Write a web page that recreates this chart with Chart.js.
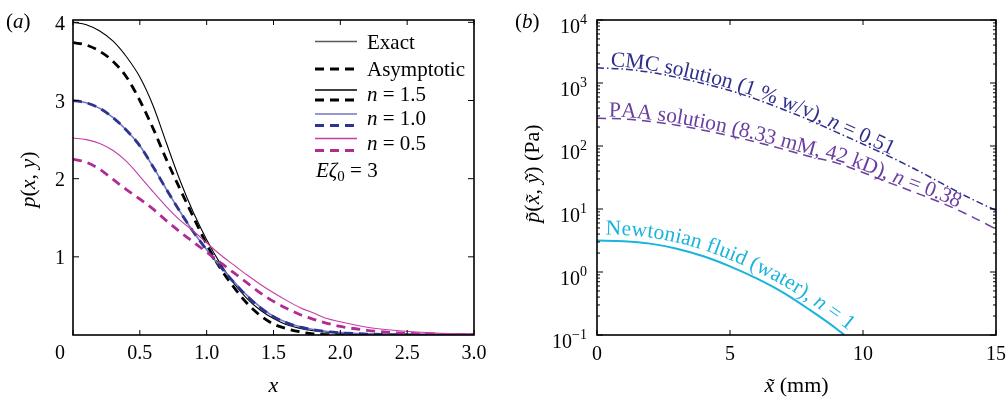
<!DOCTYPE html>
<html>
<head>
<meta charset="utf-8">
<script src="https://cdn.jsdelivr.net/npm/chart.js@4.4.1/dist/chart.umd.min.js"></script>
<style>
  html, body { margin: 0; padding: 0; background: #fff; }
  #wrap { position: relative; width: 1008px; height: 397px; }
  #chartA { position: absolute; left: 0; top: 0; }
  #chartB { position: absolute; left: 500px; top: 0; }
</style>
</head>
<body>
<div id="wrap">
  <canvas id="chartA" width="500" height="397"></canvas>
  <canvas id="chartB" width="508" height="397"></canvas>
</div>
<script>
// panel (a): p(x, y) against x
const xA = [0,0.1,0.2,0.3,0.4,0.5,0.6,0.7,0.8,0.9,1.0,1.1,1.2,1.3,1.4,1.5,1.6,1.7,1.8,1.9,2.0,2.2,2.4,2.6,2.8,3.0];
const exact15 = [4.0,3.97,3.89,3.76,3.56,3.3,2.93,2.45,1.98,1.57,1.22,0.92,0.67,0.47,0.32,0.21,0.13,0.085,0.055,0.035,0.022,0.01,0.004,0.002,0.001,0];
const asym15  = [3.74,3.71,3.63,3.5,3.3,3.0,2.64,2.24,1.87,1.51,1.16,0.86,0.62,0.41,0.25,0.14,0.08,0.04,0.015,0.005,0.001,0,0,0,0,0];
const exact10 = [3.0,2.97,2.9,2.78,2.62,2.42,2.15,1.86,1.58,1.32,1.09,0.88,0.69,0.51,0.36,0.24,0.16,0.105,0.07,0.045,0.03,0.014,0.006,0.003,0.001,0];
const asym10  = [3.0,2.97,2.9,2.78,2.62,2.42,2.15,1.86,1.58,1.32,1.09,0.88,0.68,0.5,0.35,0.235,0.155,0.1,0.066,0.042,0.028,0.012,0.005,0.002,0.001,0];
const exact05 = [2.52,2.5,2.45,2.36,2.22,2.03,1.83,1.64,1.47,1.33,1.18,1.03,0.9,0.77,0.65,0.54,0.44,0.35,0.28,0.21,0.17,0.1,0.06,0.035,0.02,0.012];
const asym05  = [2.25,2.21,2.12,1.99,1.86,1.74,1.61,1.46,1.32,1.19,1.06,0.93,0.8,0.67,0.54,0.43,0.34,0.26,0.2,0.15,0.11,0.06,0.03,0.015,0.007,0.003];
const xTicksA = [0.5,1,1.5,2,2.5,3];
const xTickLabelsA = ['0.5','1.0','1.5','2.0','2.5','3.0'];
const yTicksA = [1,2,3,4];

// panel (b): pressure (Pa) against x (mm), log axis
const xB = [0,1,2,3,4,5,6,7,8,9,10,11,12,13,14,15];
const cmcPa = [1740,1660,1480,1230,977,759,550,380,257,166,107,68,42,25,15,9.5];
const paaPa = [275,269,245,214,178,145,115,89,68,54,38,26,18,12.3,7.9,4.8];
const xNewt = [0,1,2,3,4,5,6,7,8,9,9.3];
const newtPa = [3.16,3.09,2.82,2.34,1.78,1.23,0.79,0.47,0.25,0.126,0.1];
const xTicksB = [0,5,10,15];
const decadesB = [-1,0,1,2,3,4];

const SERIF = '"Liberation Serif", "DejaVu Serif", serif';
const C_BLUE_L = '#7276c4', C_BLUE_D = '#2d3490';
const C_MAG_L = '#c43ea6', C_MAG_D = '#b22b94';
const C_CMC = '#2f2f8c', C_PAA = '#6b3fa0', C_NEWT = '#19b4dc';

function pts(xs, ys) { return xs.map((x, i) => ({ x: x, y: ys[i] })); }

// parts: [text, italic, sizeScale, dy]
function rich(ctx, parts, x, y, align, size) {
  const fontOf = p => (p[1] ? 'italic ' : '') + Math.round(size * (p[2] || 1)) + 'px ' + SERIF;
  let total = 0;
  parts.forEach(p => { ctx.font = fontOf(p); total += ctx.measureText(p[0]).width; });
  let cx = align === 'center' ? x - total / 2 : align === 'right' ? x - total : x;
  parts.forEach(p => {
    ctx.font = fontOf(p);
    ctx.fillText(p[0], cx, y + (p[3] || 0));
    cx += ctx.measureText(p[0]).width;
  });
}

function frame(chart, xt, yt, yMinor) {
  const { ctx, chartArea: a, scales } = chart;
  ctx.save();
  ctx.strokeStyle = '#000';
  ctx.lineWidth = 1;
  ctx.beginPath();
  xt.forEach(v => {
    const px = scales.x.getPixelForValue(v);
    ctx.moveTo(px, a.bottom); ctx.lineTo(px, a.bottom - 5);
    ctx.moveTo(px, a.top); ctx.lineTo(px, a.top + 5);
  });
  yt.forEach(v => {
    const py = scales.y.getPixelForValue(v);
    ctx.moveTo(a.left, py); ctx.lineTo(a.left + 6, py);
    ctx.moveTo(a.right, py); ctx.lineTo(a.right - 6, py);
  });
  (yMinor || []).forEach(v => {
    const py = scales.y.getPixelForValue(v);
    ctx.moveTo(a.left, py); ctx.lineTo(a.left + 3, py);
    ctx.moveTo(a.right, py); ctx.lineTo(a.right - 3, py);
  });
  ctx.stroke();
  ctx.lineWidth = 1.6;
  ctx.strokeRect(a.left, a.top, a.right - a.left, a.bottom - a.top);
  ctx.restore();
}

// sample the drawn bezier path of a dataset
function samplePath(meta) {
  const p = meta.data, out = [];
  for (let i = 0; i < p.length - 1; i++) {
    const a = p[i], b = p[i + 1];
    const c1x = a.cp2x ?? a.x, c1y = a.cp2y ?? a.y, c2x = b.cp1x ?? b.x, c2y = b.cp1y ?? b.y;
    for (let k = 0; k < 16; k++) {
      const t = k / 16, u = 1 - t;
      out.push({
        x: u*u*u*a.x + 3*u*u*t*c1x + 3*u*t*t*c2x + t*t*t*b.x,
        y: u*u*u*a.y + 3*u*u*t*c1y + 3*u*t*t*c2y + t*t*t*b.y
      });
    }
  }
  out.push({ x: p[p.length - 1].x, y: p[p.length - 1].y });
  out[0].s = 0;
  for (let i = 1; i < out.length; i++) out[i].s = out[i - 1].s + Math.hypot(out[i].x - out[i - 1].x, out[i].y - out[i - 1].y);
  return out;
}

function pointAt(path, s) {
  if (s <= 0) s = 0;
  const n = path.length;
  if (s >= path[n - 1].s) {
    const a = path[n - 6], b = path[n - 1], d = b.s - a.s;
    const f = (s - b.s) / d;
    return { x: b.x + (b.x - a.x) * f, y: b.y + (b.y - a.y) * f };
  }
  let i = 1;
  while (path[i].s < s) i++;
  const a = path[i - 1], b = path[i], f = (s - a.s) / (b.s - a.s || 1);
  return { x: a.x + (b.x - a.x) * f, y: a.y + (b.y - a.y) * f };
}

function textOnPath(ctx, path, parts, startPx, offset, color, size) {
  let s = (path.find(p => p.x >= startPx) || path[0]).s;
  ctx.save();
  ctx.fillStyle = color;
  ctx.textBaseline = 'alphabetic';
  parts.forEach(part => {
    ctx.font = (part[1] ? 'italic ' : '') + size + 'px ' + SERIF;
    for (const ch of part[0]) {
      const w = ctx.measureText(ch).width;
      const m = s + w / 2;
      const p = pointAt(path, m), p1 = pointAt(path, m - 8), p2 = pointAt(path, m + 8);
      const ang = Math.atan2(p2.y - p1.y, p2.x - p1.x);
      ctx.save();
      ctx.translate(p.x + Math.sin(ang) * offset, p.y - Math.cos(ang) * offset);
      ctx.rotate(ang);
      ctx.fillText(ch, -w / 2, 0);
      ctx.restore();
      s += w;
    }
  });
  ctx.restore();
}

const thin = 1.1, thick = 2.8, dash = [9, 6];

// ---------- panel (a)
const decorA = {
  id: 'decorA',
  afterDatasetsDraw(chart) {
    const { ctx, chartArea: a, scales } = chart;
    frame(chart, [0].concat(xTicksA), yTicksA);
    ctx.save();
    ctx.fillStyle = '#000';
    ctx.font = '20px ' + SERIF;
    ctx.textBaseline = 'alphabetic';
    ctx.textAlign = 'center';
    xTicksA.forEach((v, i) => ctx.fillText(xTickLabelsA[i], scales.x.getPixelForValue(v), a.bottom + 24));
    ctx.textAlign = 'right';
    ctx.fillText('0', a.left - 8, a.bottom + 24);
    ctx.textBaseline = 'middle';
    yTicksA.forEach(v => ctx.fillText(String(v), a.left - 8, scales.y.getPixelForValue(v) + 2));
    ctx.textAlign = 'left';
    ctx.textBaseline = 'alphabetic';
    rich(ctx, [['(', false], ['a', true], [')', false]], 6, 28, 'left', 21);
    rich(ctx, [['x', true]], (a.left + a.right) / 2, 392, 'center', 22);
    ctx.save();
    ctx.translate(35, (a.top + a.bottom) / 2 + 2);
    ctx.rotate(-Math.PI / 2);
    rich(ctx, [['p', true], ['(', false], ['x', true], [', ', false], ['y', true], [')', false]], 0, 0, 'center', 22);
    ctx.restore();

    // legend
    const lx0 = 315, lx1 = 357, tx = 367;
    const seg = (y, color, w, d) => {
      ctx.save(); ctx.strokeStyle = color; ctx.lineWidth = w; ctx.setLineDash(d || []);
      ctx.beginPath(); ctx.moveTo(lx0, y); ctx.lineTo(lx1, y); ctx.stroke(); ctx.restore();
    };
    seg(41.5, '#5a5a5a', 1.4);
    seg(69, '#000', thick, dash);
    seg(90, '#000', 1.4); seg(100, '#000', thick, dash);
    seg(114, C_BLUE_L, 1.4); seg(125.5, C_BLUE_D, thick, dash);
    seg(138.5, C_MAG_L, 1.4); seg(150.5, C_MAG_D, thick, dash);
    ctx.fillStyle = '#000';
    rich(ctx, [['Exact', false]], tx, 48.5, 'left', 21);
    rich(ctx, [['Asymptotic', false]], tx, 75.5, 'left', 21);
    rich(ctx, [['n', true], [' = 1.5', false]], tx, 100.5, 'left', 21);
    rich(ctx, [['n', true], [' = 1.0', false]], tx, 125, 'left', 21);
    rich(ctx, [['n', true], [' = 0.5', false]], tx, 150, 'left', 21);
    rich(ctx, [['Eζ', true], ['0', false, 0.7, 4], [' = 3', false]], 316, 177, 'left', 21);
    ctx.restore();
  }
};

new Chart(document.getElementById('chartA'), {
  type: 'line',
  data: {
    datasets: [
      { data: pts(xA, asym15), borderColor: '#000', borderWidth: thick, borderDash: dash, order: 6 },
      { data: pts(xA, exact15), borderColor: '#000', borderWidth: thin, order: 5 },
      { data: pts(xA, exact10), borderColor: C_BLUE_L, borderWidth: 1.6, order: 4 },
      { data: pts(xA, asym10), borderColor: C_BLUE_D, borderWidth: thick, borderDash: dash, order: 3 },
      { data: pts(xA, asym05), borderColor: C_MAG_D, borderWidth: thick, borderDash: dash, order: 2 },
      { data: pts(xA, exact05), borderColor: C_MAG_L, borderWidth: thin, order: 1 }
    ]
  },
  options: {
    responsive: false,
    animation: false,
    events: [],
    layout: { padding: { left: 73, right: 26, top: 20, bottom: 62 } },
    elements: { point: { radius: 0 }, line: { cubicInterpolationMode: 'monotone', fill: false } },
    scales: {
      x: { type: 'linear', min: 0, max: 3, display: false },
      y: { type: 'linear', min: 0, max: 4.03, display: false }
    },
    plugins: { legend: { display: false }, tooltip: { enabled: false } }
  },
  plugins: [decorA]
});

// ---------- panel (b)
const minorB = [];
decadesB.slice(0, -1).forEach(d => { for (let k = 2; k <= 9; k++) minorB.push(k * Math.pow(10, d)); });

const decorB = {
  id: 'decorB',
  afterDatasetsDraw(chart) {
    const { ctx, chartArea: a, scales } = chart;
    textOnPath(ctx, samplePath(chart.getDatasetMeta(0)),
      [['CMC solution (1 % w/v), ', false], ['n', true], [' = 0.51', false]],
      scales.x.getPixelForValue(0.5), 2, C_CMC, 21.5);
    textOnPath(ctx, samplePath(chart.getDatasetMeta(1)),
      [['PAA solution (8.33 mM, 42 kD), ', false], ['n', true], [' = 0.38', false]],
      scales.x.getPixelForValue(0.38), 2, C_PAA, 21.5);
    textOnPath(ctx, samplePath(chart.getDatasetMeta(2)),
      [['Newtonian fluid (water), ', false], ['n', true], [' = 1', false]],
      scales.x.getPixelForValue(0.3), 6, C_NEWT, 21.5);

    frame(chart, xTicksB, decadesB.map(d => Math.pow(10, d)), minorB);
    ctx.save();
    ctx.fillStyle = '#000';
    ctx.textBaseline = 'alphabetic';
    ctx.font = '20px ' + SERIF;
    ctx.textAlign = 'center';
    xTicksB.forEach(v => ctx.fillText(String(v), scales.x.getPixelForValue(v), a.bottom + 25));
    ctx.textAlign = 'left';
    decadesB.forEach(d => {
      const py = scales.y.getPixelForValue(Math.pow(10, d));
      const ex = d < 0 ? '\u2212' + (-d) : String(d);
      rich(ctx, [['10', false], [ex, false, 0.72, -9]], a.left - 10, py + 12.5, 'right', 20);
    });
    rich(ctx, [['(', false], ['b', true], [')', false]], 15, 28, 'left', 21);
    rich(ctx, [['x\u0303', true], [' (mm)', false]], (a.left + a.right) / 2, 392, 'center', 22);
    ctx.save();
    ctx.translate(39, (a.top + a.bottom) / 2 - 4);
    ctx.rotate(-Math.PI / 2);
    rich(ctx, [['p\u0303', true], ['(', false], ['x\u0303', true], [', ', false], ['y\u0303', true], [') (Pa)', false]], 0, 0, 'center', 22);
    ctx.restore();
    ctx.restore();
  }
};

new Chart(document.getElementById('chartB'), {
  type: 'line',
  data: {
    datasets: [
      { data: pts(xB, cmcPa), borderColor: C_CMC, borderWidth: 1.5, borderDash: [7, 3, 1.5, 3] },
      { data: pts(xB, paaPa), borderColor: C_PAA, borderWidth: 1.5, borderDash: [9, 6] },
      { data: pts(xNewt, newtPa), borderColor: C_NEWT, borderWidth: 2 }
    ]
  },
  options: {
    responsive: false,
    animation: false,
    events: [],
    layout: { padding: { left: 97, right: 12, top: 20, bottom: 62 } },
    elements: { point: { radius: 0 }, line: { cubicInterpolationMode: 'monotone', fill: false } },
    scales: {
      x: { type: 'linear', min: 0, max: 15, display: false },
      y: { type: 'logarithmic', min: 0.1, max: 10000, display: false }
    },
    plugins: { legend: { display: false }, tooltip: { enabled: false } }
  },
  plugins: [decorB]
});
</script>
</body>
</html>
